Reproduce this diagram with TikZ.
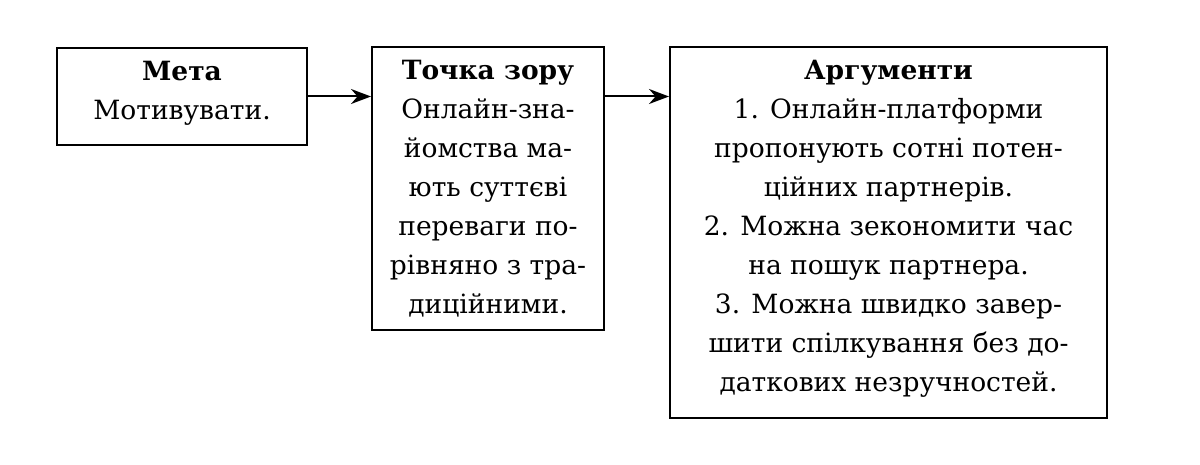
\documentclass[tikz,border=0pt]{standalone}
\usepackage{fontspec}
\setmainfont{DejaVu Serif}
\usetikzlibrary{arrows.meta}
\begin{document}
\begin{tikzpicture}[x=1pt,y=1pt,
  box/.style={draw,line width=2pt,inner sep=0pt},
  txt/.style={align=center,font=\fontsize{26.5}{39}\selectfont,inner sep=0pt,anchor=north},
  arr/.style={line width=2pt,-{Stealth[length=20pt,width=15pt]}}]
\useasboundingbox (0,0) rectangle (1200,464);
\node[box,minimum width=250,minimum height=97] (b1) at (182,367.5) {};
\node[box,minimum width=232,minimum height=283] (b2) at (488,275.5) {};
\node[box,minimum width=437,minimum height=371] (b3) at (888.5,231.5) {};
\node[txt] (t1) at (182,403) {\textbf{Мета}\\Мотивувати.};
\node[txt] (t2) at (488,404) {\textbf{Точка зору}\\Онлайн-зна-\\йомства ма-\\ють суттєві\\переваги по-\\рівняно з тра-\\диційними.};
\node[txt] (t3) at (888.5,404) {\textbf{Аргументи}\\1. Онлайн-платформи\\пропонують сотні потен-\\ційних партнерів.\\2. Можна зекономити час\\на пошук партнера.\\3. Можна швидко завер-\\шити спілкування без до-\\даткових незручностей.};
\draw[arr] (b1.east) -- (b1.east -| b2.west);
\draw[arr] (b2.west |- b1.east) ++(232,0) -- (b1.east -| b3.west);
\end{tikzpicture}
\end{document}
